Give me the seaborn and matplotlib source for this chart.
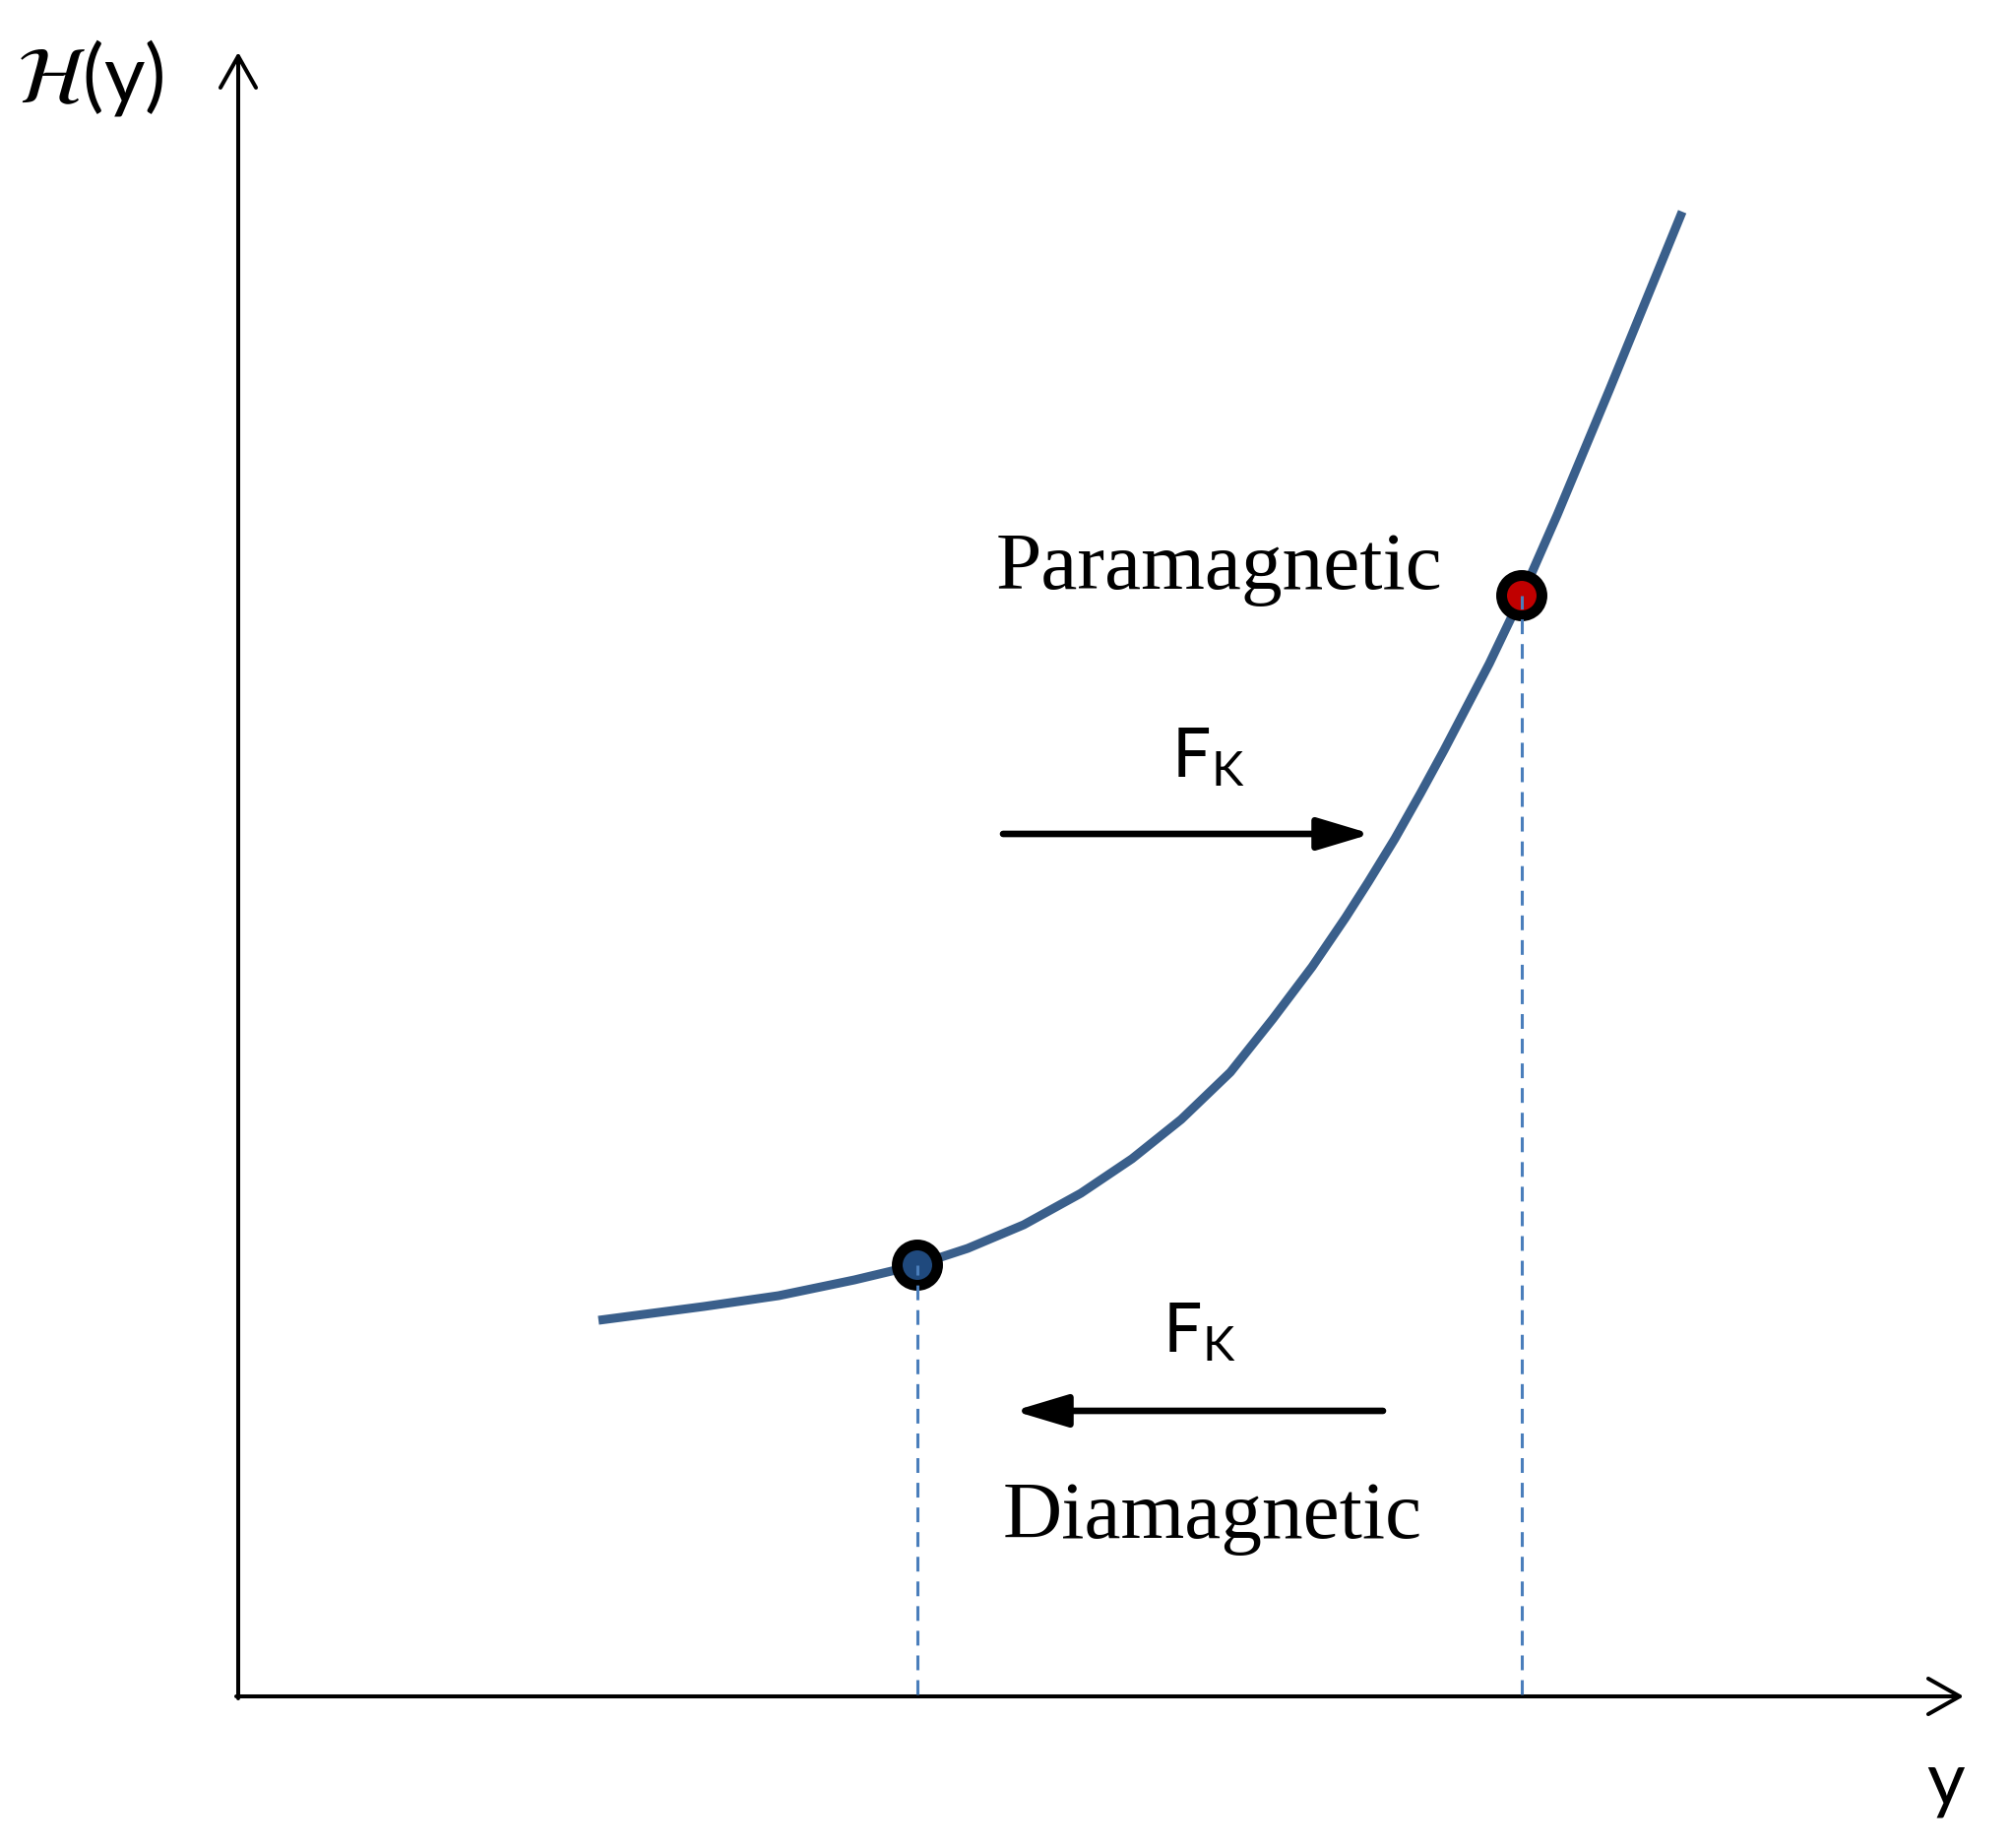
import matplotlib
matplotlib.use("Agg")
import matplotlib.pyplot as plt
import seaborn as sns
import pandas as pd

# curva H(y) (unidades arbitrarias, origen en el cruce de ejes)
y_curve = [3.66, 4.73, 5.49, 6.26, 6.89, 7.41, 7.98, 8.56, 9.08, 9.58, 10.08, 10.51,
           10.91, 11.25, 11.48, 11.75, 12.01, 12.25, 12.48, 12.71, 13.04, 13.40,
           13.93, 14.67]
H_curve = [3.82, 3.96, 4.07, 4.23, 4.38, 4.55, 4.79, 5.11, 5.46, 5.86, 6.34, 6.88,
           7.41, 7.91, 8.27, 8.71, 9.17, 9.61, 10.05, 10.49, 11.18, 12.00,
           13.27, 15.08]

# puntos de equilibrio
eq_names = ["Diamagnetic", "Paramagnetic"]
eq_y = [6.90, 13.04]
eq_H = [4.38, 11.18]
eq_colors = ["#1f497d", "#c00000"]

sns.set_style("white")
plt.rcParams["font.family"] = ["Lato", "DejaVu Sans"]
plt.rcParams["mathtext.fontset"] = "stix"
plt.rcParams["text.color"] = "black"

fig = plt.figure(figsize=(20.43, 18.77), dpi=100)
ax = fig.add_axes([0, 0, 1, 1])
ax.set_xlim(-2.42, 18.01)
ax.set_ylim(-1.54, 17.23)
ax.set_axis_off()

# ejes con flecha abierta
axis_arrow = dict(arrowstyle="->,head_length=1.15,head_width=0.65",
                  mutation_scale=20, lw=2.9, color="black", shrinkA=0, shrinkB=0)
ax.annotate("", xy=(17.53, 0), xytext=(-0.02, 0), arrowprops=axis_arrow)
ax.annotate("", xy=(0, 16.70), xytext=(0, -0.02), arrowprops=axis_arrow)

# curva
df = pd.DataFrame({"y": y_curve, "H": H_curve})
sns.lineplot(data=df, x="y", y="H", sort=False, estimator=None, ax=ax,
             color="#3a5f8b", lw=6.5, solid_capstyle="butt",
             solid_joinstyle="round", zorder=2)

# puntos
sns.scatterplot(x=eq_y, y=eq_H, hue=eq_names, palette=eq_colors, s=870,
                edgecolor="black", linewidth=7.9, legend=False, ax=ax, zorder=3)

# lineas punteadas hasta el eje
for yy, hh in zip(eq_y, eq_H):
    ax.plot([yy, yy], [0.02, hh], color="#4a7ebb", lw=2.2,
            ls=(0, (4.9, 3.3)), zorder=4)

# flechas de fuerza
force_arrow = dict(arrowstyle="-|>,head_length=1.1,head_width=0.33",
                   mutation_scale=30, lw=4.8, color="black", shrinkA=0, shrinkB=0)
ax.annotate("", xy=(11.51, 8.76), xytext=(7.77, 8.76), arrowprops=force_arrow)
ax.annotate("", xy=(7.88, 2.90), xytext=(11.63, 2.90), arrowprops=force_arrow)

# textos
ax.text(9.96, 11.25, "Paramagnetic", family="Liberation Serif", fontsize=60,
        ha="center", va="baseline")
ax.text(9.90, 1.61, "Diamagnetic", family="Liberation Serif", fontsize=60,
        ha="center", va="baseline")
ax.text(9.48, 9.33, r"F$_\mathregular{K}$", fontsize=50, ha="left", va="baseline")
ax.text(9.39, 3.49, r"F$_\mathregular{K}$", fontsize=50, ha="left", va="baseline")
ax.text(-2.25, 16.19, r"$\mathcal{H}$(y)", fontsize=58, ha="left", va="baseline")
ax.text(17.35, -1.10, "y", fontsize=54, ha="center", va="baseline")

plt.savefig("out.png", dpi=100)
plt.close()
